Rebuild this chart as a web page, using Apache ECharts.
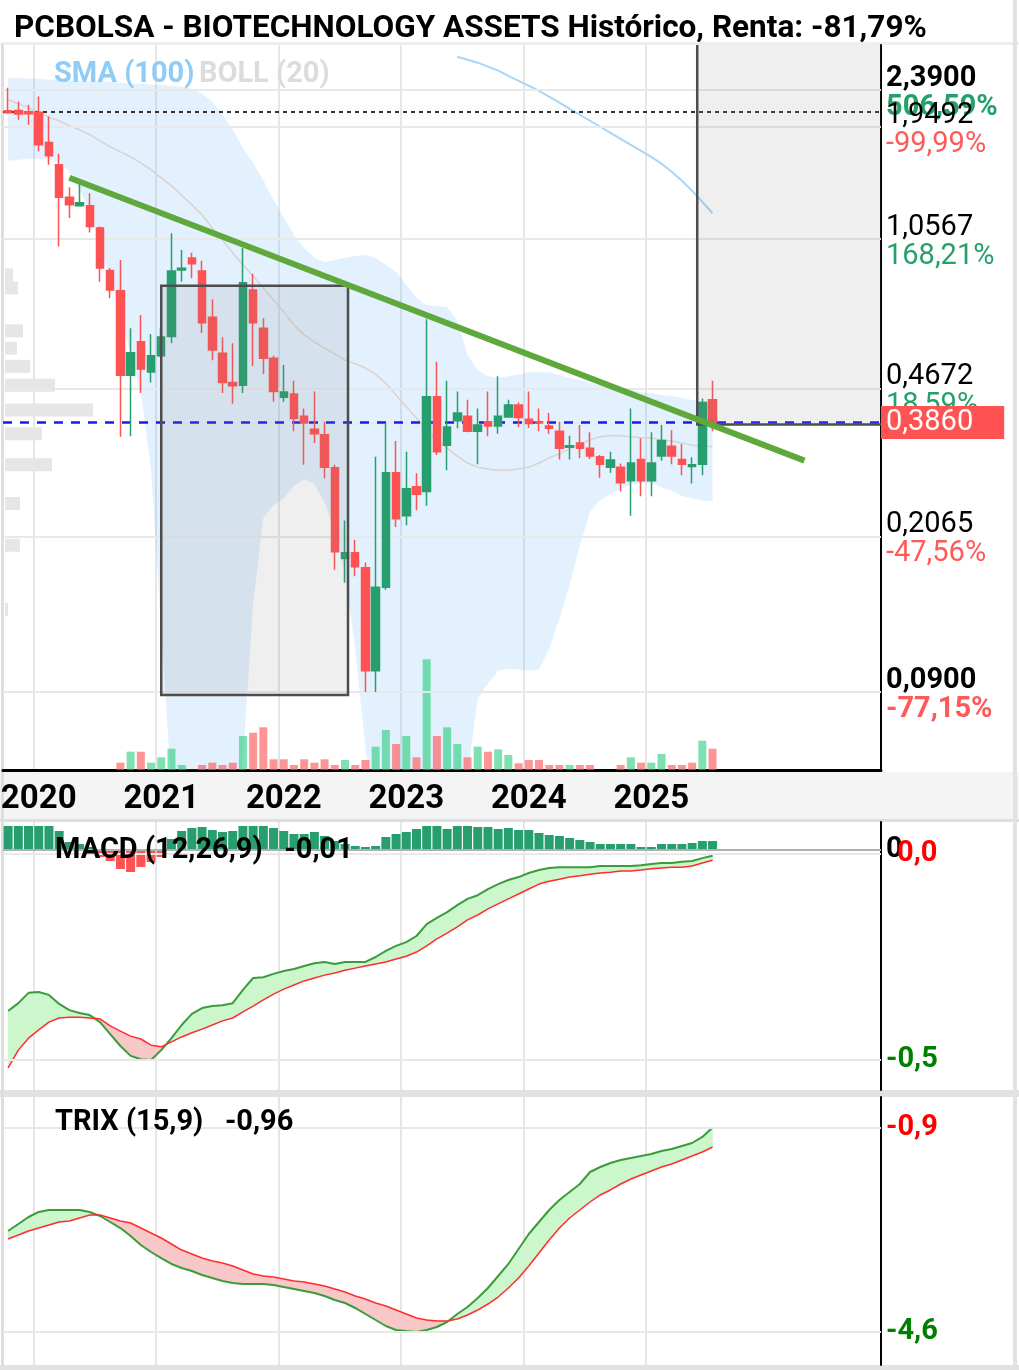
<!DOCTYPE html>
<html><head><meta charset="utf-8">
<script src="https://cdn.jsdelivr.net/npm/echarts@6/dist/echarts.min.js"></script>
<style>html,body{margin:0;padding:0;background:#fff}#c{width:1019px;height:1370px}</style>
</head><body><div id="c"></div>
<script>
// ---------- DATA ----------
const startYear = 2019, startMonth = 10, monthCount = 86;
const categories = [];
for (let k = 0; k < monthCount; k++) {
  const m0 = startMonth - 1 + k;
  categories.push((startYear + Math.floor(m0 / 12)) + '-' + String(m0 % 12 + 1).padStart(2, '0'));
}
const yearLabels = ['2020', '2021', '2022', '2023', '2024', '2025'];
const open = [2.131,2.135,2.120,2.116,1.793,1.588,1.331,1.270,1.270,1.125,0.893,0.800,0.505,0.606,0.514,0.561,0.623,0.896,0.956,0.891,0.692,0.569,0.485,0.478,0.803,0.652,0.554,0.448,0.456,0.404,0.376,0.365,0.305,0.186,0.192,0.177,0.101,0.159,0.297,0.235,0.275,0.268,0.449,0.345,0.394,0.404,0.372,0.392,0.383,0.402,0.429,0.397,0.392,0.383,0.372,0.341,0.349,0.339,0.324,0.306,0.306,0.284,0.319,0.284,0.325,0.343,0.319,0.307,0.311,0.442];
const close = [2.108,2.094,2.097,1.771,1.668,1.331,1.277,1.291,1.135,0.905,0.803,0.505,0.571,0.522,0.561,0.622,0.891,0.904,0.926,0.672,0.579,0.485,0.477,0.836,0.672,0.554,0.462,0.461,0.399,0.389,0.367,0.306,0.193,0.192,0.178,0.101,0.159,0.297,0.231,0.272,0.264,0.449,0.333,0.381,0.411,0.372,0.385,0.383,0.404,0.429,0.401,0.388,0.389,0.378,0.339,0.344,0.339,0.325,0.311,0.318,0.281,0.313,0.284,0.313,0.354,0.325,0.311,0.310,0.435,0.386];
const low = [2.097,2.030,1.975,1.707,1.588,1.018,1.188,1.265,1.098,0.840,0.768,0.361,0.362,0.458,0.485,0.555,0.601,0.840,0.856,0.635,0.548,0.458,0.432,0.458,0.531,0.508,0.437,0.437,0.372,0.310,0.349,0.288,0.175,0.163,0.169,0.0899,0.0899,0.157,0.221,0.223,0.242,0.248,0.327,0.301,0.378,0.370,0.311,0.362,0.367,0.401,0.381,0.379,0.372,0.367,0.319,0.319,0.321,0.320,0.289,0.297,0.268,0.235,0.261,0.261,0.317,0.311,0.293,0.280,0.293,0.372];
const high = [2.416,2.242,2.203,2.305,2.067,1.686,1.406,1.432,1.361,1.135,0.905,0.946,0.652,0.701,0.632,0.653,1.094,0.999,0.984,0.942,0.764,0.621,0.601,1.009,0.877,0.689,0.561,0.534,0.490,0.421,0.462,0.392,0.310,0.229,0.206,0.182,0.324,0.389,0.353,0.333,0.296,0.685,0.543,0.490,0.462,0.442,0.421,0.462,0.502,0.442,0.435,0.462,0.421,0.411,0.392,0.363,0.385,0.370,0.327,0.333,0.312,0.421,0.358,0.370,0.385,0.374,0.347,0.323,0.445,0.490];
const volume = [0,0,0,0,0,0,0,0,0,0,0,7.3,18.3,18.3,7.3,12.7,21.3,5,0,5,7.3,5,7.3,34,37.3,42.7,10.7,10.7,5,10.7,7.3,10.7,5,10,5,10,23.3,40,26,34,12.7,110.7,34,42.7,26,12.7,23.3,18.3,20.7,15,6.7,10,10,5,5,5,5,5,0,0,5,12.7,7.3,7.3,16,5,5,7.3,29.3,21.3];
const volumeUp = [0,0,0,0,0,0,0,0,0,0,0,0,1,0,1,1,1,1,0,0,0,0,0,1,0,0,0,0,0,0,0,0,0,1,0,0,1,1,0,1,0,1,0,1,1,0,1,0,1,1,0,0,0,0,0,1,0,0,0,0,0,1,0,1,1,0,0,0,1,0];
const bollUpper = [2.551,2.551,2.537,2.537,2.524,2.524,2.510,2.510,2.496,2.496,2.496,2.483,2.469,2.469,2.456,2.456,2.443,2.430,2.403,2.338,2.239,2.086,1.922,1.742,1.605,1.463,1.312,1.190,1.084,1.010,0.957,0.936,0.946,0.957,0.967,0.972,0.957,0.921,0.886,0.825,0.768,0.740,0.736,0.732,0.680,0.564,0.519,0.502,0.497,0.502,0.507,0.513,0.513,0.513,0.505,0.497,0.492,0.484,0.478,0.473,0.471,0.466,0.460,0.458,0.453,0.451,0.446,0.441,0.439,0.436];
const bollLower = [1.623,1.632,1.641,1.641,1.632,1.614,1.529,1.386,1.229,1.027,0.857,0.713,0.564,0.460,0.301,0.127,0.053,0.042,0.036,0.033,0.032,0.034,0.040,0.0622,0.145,0.232,0.249,0.258,0.276,0.287,0.279,0.252,0.217,0.170,0.114,0.0664,0.046,0.038,0.034,0.032,0.033,0.035,0.037,0.040,0.046,0.0573,0.0867,0.0940,0.101,0.102,0.1015,0.101,0.1015,0.114,0.134,0.161,0.200,0.240,0.256,0.264,0.272,0.278,0.281,0.281,0.274,0.269,0.262,0.258,0.255,0.254];
const bollMid = [2.263,2.215,2.165,2.120,2.057,2.019,1.965,1.922,1.871,1.810,1.752,1.704,1.659,1.605,1.545,1.479,1.416,1.348,1.277,1.209,1.126,1.055,0.983,0.921,0.867,0.812,0.761,0.713,0.664,0.629,0.605,0.585,0.567,0.548,0.537,0.525,0.508,0.483,0.453,0.425,0.400,0.375,0.355,0.340,0.325,0.313,0.306,0.303,0.301,0.301,0.303,0.306,0.313,0.322,0.329,0.338,0.347,0.355,0.361,0.363,0.363,0.361,0.359,0.359,0.355,0.353,0.349,0.345,0.344,0.342];
const smaStart = 44;
const sma100 = [2.860,2.814,2.770,2.711,2.653,2.579,2.510,2.443,2.377,2.301,2.228,2.155,2.086,2.019,1.954,1.891,1.830,1.771,1.714,1.659,1.597,1.529,1.456,1.378,1.298,1.220];
const profilePrice = [0.872,0.812,0.643,0.585,0.530,0.478,0.418,0.367,0.310,0.251,0.200,0.141];
const profileVol = [8,13,18,12,25,50,88,37,47,15,15,3];
const trendX = ['2020-04','2026-04'];
const trendY = [1.48, 0.317];
const startPrice = 2.12;
const lastPrice = 0.386, lastPriceLabel = '0,3860';
const boxFrom = '2021-01', boxTo = '2022-07', boxHigh = 0.822, boxLow = 0.0885;
const projFrom = '2025-06';
const tickValues = [2.39, 1.9492, 1.0567, 0.4672, 0.2065, 0.09];
const tickPrice = ['2,3900','1,9492','1,0567','0,4672','0,2065','0,0900'];
const tickPct = ['506,59%','-99,99%','168,21%','18,59%','-47,56%','-77,15%'];
const macd = [-0.381,-0.362,-0.337,-0.335,-0.342,-0.364,-0.379,-0.386,-0.391,-0.408,-0.437,-0.466,-0.490,-0.498,-0.500,-0.476,-0.447,-0.415,-0.388,-0.374,-0.369,-0.367,-0.362,-0.330,-0.301,-0.299,-0.291,-0.284,-0.279,-0.272,-0.265,-0.262,-0.267,-0.262,-0.262,-0.262,-0.250,-0.235,-0.223,-0.214,-0.199,-0.170,-0.155,-0.141,-0.124,-0.109,-0.100,-0.085,-0.073,-0.063,-0.056,-0.046,-0.039,-0.034,-0.032,-0.032,-0.032,-0.032,-0.029,-0.029,-0.029,-0.029,-0.027,-0.024,-0.022,-0.022,-0.019,-0.017,-0.010,-0.004];
const macdSignal = [-0.519,-0.476,-0.447,-0.427,-0.408,-0.398,-0.396,-0.396,-0.398,-0.400,-0.417,-0.430,-0.442,-0.449,-0.464,-0.468,-0.456,-0.444,-0.434,-0.425,-0.415,-0.405,-0.398,-0.383,-0.369,-0.354,-0.340,-0.328,-0.318,-0.308,-0.301,-0.294,-0.289,-0.282,-0.277,-0.272,-0.267,-0.262,-0.255,-0.248,-0.238,-0.223,-0.206,-0.192,-0.177,-0.160,-0.148,-0.133,-0.121,-0.109,-0.097,-0.085,-0.073,-0.066,-0.061,-0.056,-0.053,-0.049,-0.046,-0.044,-0.041,-0.041,-0.039,-0.036,-0.034,-0.032,-0.032,-0.029,-0.022,-0.015];
const macdHist = [0.024,0.024,0.024,0.024,0.024,0.019,0.008,0.006,0.003,-0.007,-0.011,-0.019,-0.022,-0.017,-0.012,-0.007,0.011,0.019,0.022,0.023,0.020,0.018,0.019,0.024,0.024,0.024,0.022,0.019,0.016,0.016,0.018,0.014,0.009,0.006,0.004,0.003,0.004,0.013,0.016,0.018,0.021,0.024,0.024,0.021,0.024,0.024,0.023,0.023,0.021,0.022,0.020,0.020,0.017,0.015,0.014,0.012,0.010,0.008,0.006,0.006,0.006,0.006,0.003,0.003,0.006,0.006,0.006,0.007,0.009,0.009];
const trix = [-2.768,-2.641,-2.514,-2.423,-2.387,-2.387,-2.387,-2.387,-2.423,-2.496,-2.605,-2.714,-2.859,-3.022,-3.149,-3.258,-3.366,-3.439,-3.493,-3.566,-3.620,-3.675,-3.711,-3.729,-3.729,-3.729,-3.747,-3.784,-3.820,-3.856,-3.892,-3.947,-4.019,-4.074,-4.164,-4.273,-4.382,-4.491,-4.563,-4.582,-4.600,-4.563,-4.509,-4.418,-4.273,-4.146,-3.983,-3.802,-3.584,-3.366,-3.094,-2.822,-2.605,-2.387,-2.206,-2.061,-1.916,-1.698,-1.607,-1.535,-1.480,-1.444,-1.408,-1.372,-1.317,-1.281,-1.226,-1.172,-1.063,-0.890];
const trixSignal = [-2.913,-2.840,-2.768,-2.714,-2.659,-2.605,-2.587,-2.532,-2.478,-2.478,-2.532,-2.587,-2.623,-2.714,-2.804,-2.895,-3.004,-3.113,-3.185,-3.258,-3.312,-3.348,-3.403,-3.475,-3.548,-3.584,-3.602,-3.638,-3.675,-3.693,-3.729,-3.765,-3.820,-3.874,-3.947,-4.001,-4.074,-4.128,-4.201,-4.273,-4.346,-4.382,-4.400,-4.400,-4.364,-4.291,-4.201,-4.092,-3.965,-3.802,-3.620,-3.403,-3.167,-2.931,-2.714,-2.532,-2.387,-2.242,-2.115,-2.024,-1.916,-1.825,-1.752,-1.680,-1.607,-1.553,-1.480,-1.408,-1.335,-1.245];
const macdTicks = [0, -0.5], macdTickLabels = ['0,0', '-0,5'], macdTickColors = ['#ff0000', '#008000'];
const trixTicks = [-0.9, -4.6], trixTickLabels = ['-0,9', '-4,6'], trixTickColors = ['#ff0000', '#008000'];

// ---------- STYLE ----------
const FONT = 'Roboto, sans-serif';
const UP = '#279e6e', DOWN = '#ff5252';
const isYearStart = (i, v) => String(v).endsWith('-01') && yearLabels.indexOf(String(v).slice(0, 4)) >= 0;
const splitLine = { show: true, interval: isYearStart, lineStyle: { color: '#e6e6e6', width: 2 } };

function poly(points, color) {
  return { type: 'polygon', shape: { points }, style: { fill: color, stroke: color, lineWidth: 0.6 } };
}
function makeFill(aArr, bArr, upFill, downFill) {
  return function (params, api) {
    if (params.dataIndex !== 0) return null;
    const children = [];
    for (let i = 0; i < aArr.length - 1; i++) {
      const pa0 = api.coord([i, aArr[i]]), pa1 = api.coord([i + 1, aArr[i + 1]]);
      const pb0 = api.coord([i, bArr[i]]), pb1 = api.coord([i + 1, bArr[i + 1]]);
      const d0 = aArr[i] - bArr[i], d1 = aArr[i + 1] - bArr[i + 1];
      if (d0 * d1 < 0) {
        const t = d0 / (d0 - d1);
        const px = [pa0[0] + t * (pa1[0] - pa0[0]), pa0[1] + t * (pa1[1] - pa0[1])];
        children.push(poly([pa0, px, pb0], d0 > 0 ? upFill : downFill));
        children.push(poly([px, pa1, pb1], d1 > 0 ? upFill : downFill));
      } else {
        children.push(poly([pa0, pa1, pb1, pb0], (d0 + d1) >= 0 ? upFill : downFill));
      }
    }
    return { type: 'group', children };
  };
}
function bandRender(params, api) {
  if (params.dataIndex !== 0) return null;
  const pts = [];
  for (let i = 0; i < bollUpper.length; i++) pts.push(api.coord([i, bollUpper[i]]));
  for (let i = bollLower.length - 1; i >= 0; i--) pts.push(api.coord([i, bollLower[i]]));
  return { type: 'polygon', shape: { points: pts }, style: { fill: 'rgba(100,181,246,0.19)' } };
}
function profileRender(params, api) {
  const s = api.coord([0, api.value(1)]);
  const e = api.coord([api.value(0), api.value(1)]);
  return { type: 'rect', shape: { x: s[0] + 2, y: s[1] - 6.5, width: e[0] - s[0], height: 13 }, style: { fill: '#e6e6e6' } };
}
function boxRender(params, api) {
  if (params.dataIndex !== 0) return null;
  const cs = params.coordSys;
  const bw = api.size([1, 0])[0];
  const a = api.coord([boxFrom, boxHigh]), b = api.coord([boxTo, boxLow]);
  const p = api.coord([projFrom, lastPrice]);
  const px = p[0] - bw / 2, right = cs.x + cs.width;
  return { type: 'group', children: [
    { type: 'rect', shape: { x: a[0], y: a[1], width: b[0] - a[0] + 3, height: b[1] - a[1] },
      style: { fill: 'rgba(128,128,128,0.13)', stroke: '#4d4d4d', lineWidth: 2.5 } },
    { type: 'rect', shape: { x: px, y: cs.y, width: right - px, height: p[1] - cs.y },
      style: { fill: 'rgba(128,128,128,0.13)' } },
    { type: 'polyline', shape: { points: [[px, cs.y], [px, p[1]], [right, p[1]]] },
      style: { stroke: '#4d4d4d', lineWidth: 2.5, fill: null } }
  ] };
}

const LBL = 29;
const lastIdx = tickValues.length - 1;
const gridMarks = tickValues.map((v, i) => {
  const bold = (i === 0 || i === lastIdx) ? 'bold' : 'normal';
  const pctColor = tickPct[i].startsWith('-') ? '#ff5a5a' : '#26a06b';
  return {
    yAxis: v,
    lineStyle: { color: '#e8e8e8', width: 2, type: 'solid' },
    label: {
      show: true, position: 'end', distance: 5, padding: [7, 0, 0, 0],
      formatter: '{p|' + tickPrice[i] + '}\n{q|' + tickPct[i] + '}',
      rich: {
        p: { fontSize: LBL, fontFamily: FONT, fontWeight: bold, color: '#000', lineHeight: 28, padding: [0, 0, 2, 0] },
        q: { fontSize: LBL, fontFamily: FONT, fontWeight: bold, color: pctColor, lineHeight: 28 }
      }
    }
  };
});
gridMarks.push({ yAxis: startPrice, lineStyle: { color: '#333', width: 2, type: [4, 4] }, label: { show: false } });

function tickMarks(vals, labels, colors, firstPad) {
  return vals.map((v, i) => ({
    yAxis: v,
    lineStyle: { color: '#e8e8e8', width: 2, type: 'solid' },
    label: { show: true, position: 'end', distance: 5, formatter: labels[i], color: colors[i],
      fontSize: LBL, fontWeight: 'bold', fontFamily: FONT, padding: [6, 0, 0, i === 0 ? firstPad : 0] }
  }));
}

const candleData = open.map((o, i) => [o, close[i], low[i], high[i]]);
const volData = volume.map((v, i) => ({ value: v, itemStyle: { color: volumeUp[i] ? 'rgba(38,205,125,0.6)' : 'rgba(255,90,90,0.65)' } }));
const smaData = categories.map((c, i) => (i >= smaStart && i - smaStart < sma100.length) ? sma100[i - smaStart] : null);
const histData = macdHist.map(v => ({ value: v, itemStyle: { color: v >= 0 ? UP : DOWN } }));

const xBase = (gridIndex, showLabels) => ({
  type: 'category', gridIndex, data: categories, boundaryGap: true,
  axisLine: { show: gridIndex === 0, onZero: false, lineStyle: { color: '#000', width: 3 } },
  axisTick: { show: false },
  axisLabel: { show: showLabels, interval: isYearStart, formatter: v => v.slice(0, 4), fontSize: 33, fontWeight: 'bold', color: '#000', fontFamily: FONT, margin: 13 },
  splitLine
});
const rightAxis = (gridIndex, extra) => Object.assign({
  gridIndex, position: 'right',
  axisLine: { show: true, onZero: false, lineStyle: { color: '#000', width: 2 } },
  axisTick: { show: false }, axisLabel: { show: false }, splitLine: { show: false }
}, extra);

const option = {
  animation: false,
  backgroundColor: '#fff',
  textStyle: { fontFamily: FONT },
  title: [
    { text: 'PCBOLSA - BIOTECHNOLOGY ASSETS Histórico, Renta: -81,79%', left: 9, top: 8,
      textStyle: { fontSize: 31.5, fontWeight: 'bold', color: '#000', fontFamily: FONT } },
    { text: '{a|SMA (100)} {b|BOLL (20)}', left: 49, top: 55,
      textStyle: { rich: { a: { fontSize: 29, fontWeight: 'bold', color: '#8fcdf6', fontFamily: FONT },
                           b: { fontSize: 29, fontWeight: 'bold', color: '#dcdcdc', fontFamily: FONT } } } },
    { text: 'MACD (12,26,9)   -0,01', left: 50, top: 831,
      textStyle: { fontSize: 29, fontWeight: 'bold', color: '#000', fontFamily: FONT } },
    { text: 'TRIX (15,9)   -0,96', left: 50, top: 1103,
      textStyle: { fontSize: 29, fontWeight: 'bold', color: '#000', fontFamily: FONT } }
  ],
  graphic: [
    { type: 'rect', z: -10, silent: true, shape: { x: 0, y: 772, width: 1019, height: 49 }, style: { fill: '#f4f4f4' } },
    { type: 'rect', z: -10, silent: true, shape: { x: 0, y: 819, width: 1019, height: 3 }, style: { fill: '#dedede' } },
    { type: 'rect', z: -10, silent: true, shape: { x: 0, y: 1090, width: 1019, height: 7 }, style: { fill: '#e2e2e2' } },
    { type: 'rect', z: -10, silent: true, shape: { x: 0, y: 42, width: 1019, height: 3 }, style: { fill: '#eeeeee' } },
    { type: 'rect', silent: true, shape: { x: 1, y: 44, width: 3, height: 1326 }, style: { fill: '#dedede' } },
    { type: 'rect', silent: true, shape: { x: 1013, y: 0, width: 4, height: 1370 }, style: { fill: '#e2e2e2' } },
    { type: 'rect', silent: true, shape: { x: 0, y: 1365, width: 1019, height: 5 }, style: { fill: '#e2e2e2' } }
  ],
  grid: [
    { left: 3, top: 45, width: 878, height: 725, containLabel: false, outerBoundsMode: 'none' },
    { left: 3, top: 822, width: 878, height: 268, containLabel: false, outerBoundsMode: 'none' },
    { left: 3, top: 1097, width: 878, height: 268, containLabel: false, outerBoundsMode: 'none' }
  ],
  xAxis: [
    xBase(0, true), xBase(1, false), xBase(2, false),
    { type: 'value', gridIndex: 0, min: 0, max: 878, show: false }
  ],
  yAxis: [
    rightAxis(0, { type: 'log', min: 0.0588, max: 3.05, logBase: 10 }),
    { type: 'value', gridIndex: 0, min: 0, max: 725, show: false },
    rightAxis(1, { type: 'value', min: -0.5728, max: 0.0777 }),
    { type: 'value', gridIndex: 1, min: -0.240, max: 0.028, show: false },
    rightAxis(2, { type: 'value', min: -5.198, max: -0.338 })
  ],
  series: [
    { type: 'custom', name: 'profile', xAxisIndex: 3, yAxisIndex: 0, z: 1, silent: true,
      data: profilePrice.map((p, i) => [profileVol[i], p]), renderItem: profileRender },
    { type: 'custom', name: 'boll', xAxisIndex: 0, yAxisIndex: 0, z: 2, clip: true, silent: true,
      data: [[0, 1]], renderItem: bandRender },
    { type: 'line', name: 'bollMid', xAxisIndex: 0, yAxisIndex: 0, z: 3, data: bollMid, showSymbol: false,
      lineStyle: { color: '#dcd2cd', width: 1.5 }, silent: true },
    { type: 'line', name: 'sma100', xAxisIndex: 0, yAxisIndex: 0, z: 3, data: smaData, showSymbol: false,
      lineStyle: { color: '#a8d6f6', width: 2 }, silent: true },
    { type: 'bar', name: 'volume', xAxisIndex: 0, yAxisIndex: 1, z: 4, data: volData, barWidth: 8, silent: true },
    { type: 'candlestick', name: 'price', xAxisIndex: 0, yAxisIndex: 0, z: 5, data: candleData, barWidth: 8,
      itemStyle: { color: UP, color0: DOWN, borderColor: UP, borderColor0: DOWN, borderWidth: 1.5 },
      markLine: { silent: true, symbol: ['none', 'none'], data: gridMarks } },
    { type: 'custom', name: 'boxes', xAxisIndex: 0, yAxisIndex: 0, z: 6, silent: true,
      data: [[0, 1]], renderItem: boxRender },
    { type: 'line', name: 'trend', xAxisIndex: 0, yAxisIndex: 0, z: 7, showSymbol: false, silent: true,
      data: trendX.map((x, i) => [x, trendY[i]]), lineStyle: { color: '#5fa83c', width: 6 },
      markLine: { silent: true, symbol: ['none', 'none'], data: [{
        yAxis: lastPrice, lineStyle: { color: '#1a1aee', width: 2.5, type: [9, 8] },
        label: { show: true, position: 'end', distance: 0, formatter: lastPriceLabel, color: '#fff',
          fontSize: LBL, fontFamily: FONT, backgroundColor: '#ff5252', padding: [5, 31, 0, 5], lineHeight: 28 }
      }] } },
    // MACD panel
    { type: 'bar', name: 'hist', xAxisIndex: 1, yAxisIndex: 3, z: 2, data: histData, barWidth: 9, silent: true,
      markLine: { silent: true, symbol: ['none', 'none'], data: [{ yAxis: 0, lineStyle: { color: '#b0b0b0', width: 2, type: 'solid' },
        label: { show: true, position: 'end', distance: 5, formatter: '0', color: '#000', fontSize: LBL, fontWeight: 'bold', fontFamily: FONT } }] } },
    { type: 'custom', name: 'macdFill', xAxisIndex: 1, yAxisIndex: 2, z: 3, silent: true, data: [[0, 0]],
      renderItem: makeFill(macd, macdSignal, '#ccf6cc', '#f8c8c8') },
    { type: 'line', name: 'macd', xAxisIndex: 1, yAxisIndex: 2, z: 4, data: macd, showSymbol: false, silent: true,
      lineStyle: { color: '#3c9b3c', width: 2 },
      markLine: { silent: true, symbol: ['none', 'none'], data: tickMarks(macdTicks, macdTickLabels, macdTickColors, 11) } },
    { type: 'line', name: 'signal', xAxisIndex: 1, yAxisIndex: 2, z: 4, data: macdSignal, showSymbol: false, silent: true,
      lineStyle: { color: '#ff2d2d', width: 1.5 } },
    // TRIX panel
    { type: 'custom', name: 'trixFill', xAxisIndex: 2, yAxisIndex: 4, z: 3, silent: true, data: [[0, -1]],
      renderItem: makeFill(trix, trixSignal, '#ccf6cc', '#f8c8c8') },
    { type: 'line', name: 'trix', xAxisIndex: 2, yAxisIndex: 4, z: 4, data: trix, showSymbol: false, silent: true,
      lineStyle: { color: '#3c9b3c', width: 2 },
      markLine: { silent: true, symbol: ['none', 'none'], data: tickMarks(trixTicks, trixTickLabels, trixTickColors, 0) } },
    { type: 'line', name: 'trixSignal', xAxisIndex: 2, yAxisIndex: 4, z: 4, data: trixSignal, showSymbol: false, silent: true,
      lineStyle: { color: '#ff2d2d', width: 1.5 } }
  ]
};
const chart = echarts.init(document.getElementById('c'), null, { renderer: 'canvas', width: 1019, height: 1370 });
chart.setOption(option);
</script></body></html>
